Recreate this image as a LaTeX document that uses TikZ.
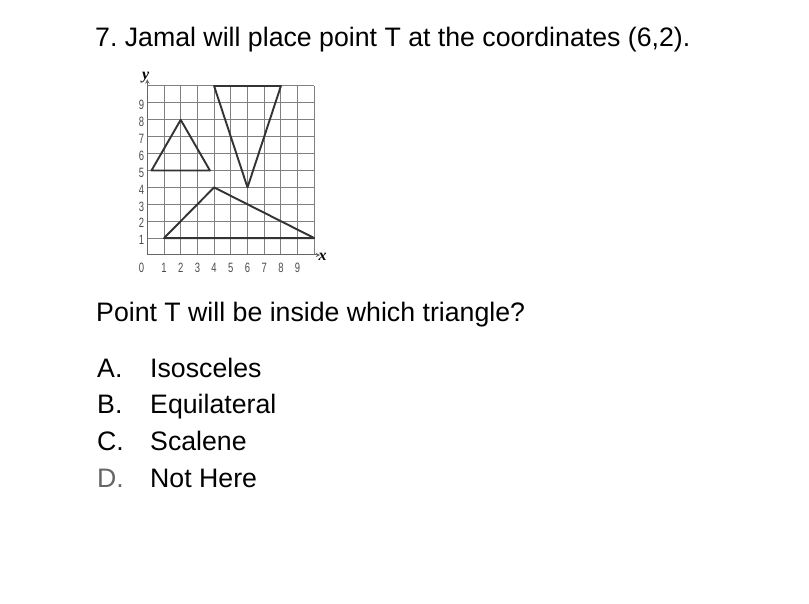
\documentclass[tikz,border=0pt]{standalone}
\usepackage{fontspec}
\setmainfont{Liberation Sans}
\newfontfamily\axisfont{Liberation Serif}
\usetikzlibrary{arrows}
\frenchspacing
\tikzstyle{prose} = [anchor=base west, inner sep=0pt, font=\fontsize{26.7}{30}\selectfont]
\tikzstyle{gridline} = [draw=black!50, line width=1pt]
\tikzstyle{triangle} = [draw=black!80, line width=1.9pt, line join=round]
\tikzstyle{axis} = [draw=black!60, line width=1pt, ->, >=stealth]
\tikzstyle{ticklabel} = [anchor=base, inner sep=0pt, text=black!70, font=\fontsize{13.5}{13.5}\selectfont, xscale=0.7]
\tikzstyle{axislabel} = [inner sep=0pt, font=\fontsize{16}{16}\axisfont\bfseries\itshape]

\begin{document}
\begin{tikzpicture}[x=1pt, y=-1pt]

\fill[white] (0,0) rectangle (809,604);
\useasboundingbox (0,0) rectangle (809,604);

\node (title) [prose] at (95,47) {7. Jamal will place point T at the coordinates (6,2).};

% the coordinate grid
\begin{scope}[shift={(147.3,255)}, x=16.7pt, y=16.9pt]
\foreach \i in {0,...,10} {
  \draw[gridline] (\i,0) -- (\i,10);
  \draw[gridline] (0,\i) -- (10,\i);
}
\draw[axis] (0,0) -- (10.35,0);
\draw[axis] (0,0) -- (0,10.4);
\node (xlab) [axislabel] at (10.5,-0.1) {x};
\node (ylab) [axislabel] at (-0.1,10.5) {y};
\node (zero) [ticklabel] at (-0.35,-1.05) {0};
\foreach \i in {1,...,9} {
  \node (x\i) [ticklabel] at (\i,-1.05) {\i};
  \node (y\i) [ticklabel] at (-0.35,\i-0.4) {\i};
}
\draw[triangle] (0.25,5) -- (2,8) -- (3.75,5) -- cycle;
\draw[triangle] (4,10) -- (8,10) -- (6,4) -- cycle;
\draw[triangle] (1,1) -- (4,4) -- (10,1) -- cycle;
\end{scope}

\node (question) [prose] at (96,321) {Point T will be inside which triangle?};

\node (a) [prose] at (97,377) {A.};
\node (b) [prose] at (97,413) {B.};
\node (c) [prose] at (97,450) {C.};
\node (d) [prose, text=black!60] at (97,487) {D.};
\node (isos) [prose] at (150,377) {Isosceles};
\node (equi) [prose] at (150,413) {Equilateral};
\node (scal) [prose] at (150,450) {Scalene};
\node (none) [prose] at (150,487) {Not Here};

\end{tikzpicture}
\end{document}
